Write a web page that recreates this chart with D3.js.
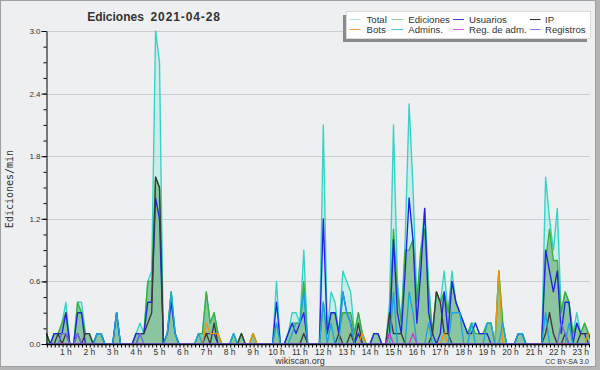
<!DOCTYPE html>
<html>
<head>
<meta charset="utf-8">
<script src="https://cdnjs.cloudflare.com/ajax/libs/d3/7.8.5/d3.min.js"></script>
<style>
  body { margin: 0; background: #eeeff1; }
  svg { display: block; }
  text { font-family: "Liberation Sans", Arial, sans-serif; fill: #333; }
</style>
</head>
<body>
<div id="chart"></div>
<script>
'use strict';

// edits per minute, one value per 10 minutes (00:00 .. 23:50)
var total = [
  .1, .1, 0, .1, .1, .2, .4, 0, 0, .4, .4, .1,
  .1, 0, .1, .1, 0, 0, 0, .3, 0, 0, 0, 0,
  .1, .2, .1, .6, .7, 3.0, 2.7, 0, .1, .5, .1, 0,
  0, 0, 0, 0, .1, .1, .5, .2, .3, .1, 0, 0,
  0, .1, 0, .1, 0, 0, .1, 0, 0, 0, 0, 0,
  .6, 0, 0, .1, .3, .3, .2, .9, 0, 0, 0, 0,
  2.1, .1, .5, .4, .1, .7, .6, .5, .1, .3, .1, 0,
  0, .1, .1, 0, 0, .4, 2.1, .6, .2, 1.0, 2.3, 1.5,
  .4, .9, 1.3, .6, .1, .5, .4, .7, .3, .7, .4, .3,
  .2, .1, .2, .2, .1, .1, .2, .2, 0, .7, .2, 0,
  0, 0, .1, .1, 0, 0, 0, 0, 0, 1.6, 1.2, .9,
  1.3, .3, .5, .4, .1, .3, .1, .2, .1, .1, 0, 0
];
var ediciones = [
  .1, .1, 0, .1, .1, .2, .3, 0, 0, .4, .3, .1,
  .1, 0, .1, .1, 0, 0, 0, .3, 0, 0, 0, 0,
  .1, .1, .1, .6, .6, 1.6, 1.5, 0, .1, .5, .1, 0,
  0, 0, 0, 0, .1, .1, .5, .2, .3, .1, 0, 0,
  0, .1, 0, .1, 0, 0, .1, 0, 0, 0, 0, 0,
  .2, 0, 0, .1, .2, .2, .2, .6, 0, 0, 0, 0,
  .4, .1, .3, .3, .1, .3, .3, .3, .1, .3, .1, 0,
  0, .1, .1, 0, 0, .3, 1.1, .5, .2, .9, .9, 1.0,
  .4, .9, 1.1, .5, .1, .5, .4, .5, .3, .6, .4, .3,
  .2, .1, .2, .1, .1, .1, .2, .2, 0, .7, .2, 0,
  0, 0, .1, .1, 0, 0, 0, 0, 0, .8, 1.1, .8,
  .8, .3, .5, .4, .1, .2, .1, .2, .1, .1, 0, 0
];
var usuarios = [
  0, 0, 0, .1, .1, .1, .3, 0, 0, .3, .3, 0,
  0, 0, .1, .1, 0, 0, 0, .3, 0, 0, 0, 0,
  .1, .1, .1, .4, .4, 1.4, 1.2, 0, .1, .4, .1, 0,
  0, 0, 0, 0, 0, 0, .1, .1, .1, 0, 0, 0,
  0, 0, 0, 0, 0, 0, 0, 0, 0, 0, 0, 0,
  .4, 0, 0, .1, .2, .1, .2, .3, 0, 0, 0, 0,
  1.2, .1, .3, .3, .1, .5, .3, .2, 0, .1, 0, 0,
  0, .1, .1, 0, 0, .1, 1.0, .3, .1, .7, 1.4, 1.0,
  .2, .7, 1.3, .3, .1, 0, .1, .5, .1, .6, .4, .3,
  .2, .1, .1, .2, .1, .1, .1, 0, 0, 0, 0, 0,
  0, 0, .1, .1, 0, 0, 0, 0, 0, .9, .7, .5,
  .7, .1, .4, .4, 0, .2, .1, .1, 0, 0, 0, 0
];
var ip = [
  .1, .1, 0, 0, .1, 0, .1, 0, 0, .1, 0, .1,
  .1, 0, 0, 0, 0, 0, 0, 0, 0, 0, 0, 0,
  0, .1, .1, .2, .3, 1.6, 1.5, 0, 0, 0, 0, 0,
  0, 0, 0, 0, 0, 0, .1, 0, .2, 0, 0, 0,
  0, 0, 0, .1, 0, 0, 0, 0, 0, 0, 0, 0,
  0, 0, 0, 0, 0, 0, 0, .1, 0, 0, 0, 0,
  0, 0, 0, 0, .1, 0, 0, .1, 0, .2, 0, 0,
  0, 0, 0, 0, 0, .3, .1, .1, .1, 0, 0, 0,
  0, 0, 0, 0, .1, .5, .4, .1, .1, 0, 0, 0,
  0, 0, 0, 0, 0, 0, 0, 0, 0, 0, 0, 0,
  0, 0, 0, 0, 0, 0, 0, 0, 0, .1, .3, .1,
  0, 0, .1, 0, 0, 0, .1, .1, .1, 0, 0, 0
];
var bots = [
  0, 0, 0, 0, 0, 0, 0, 0, 0, 0, 0, 0,
  0, 0, 0, 0, 0, 0, 0, 0, 0, 0, 0, 0,
  0, 0, 0, 0, 0, 0, 0, 0, 0, 0, 0, 0,
  0, 0, 0, 0, 0, 0, .2, .1, .1, .1, 0, 0,
  0, 0, 0, 0, 0, 0, .1, 0, 0, 0, 0, 0,
  0, 0, 0, 0, 0, 0, 0, 0, 0, 0, 0, 0,
  0, 0, 0, 0, 0, 0, 0, 0, 0, 0, .1, 0,
  0, 0, 0, 0, 0, 0, 0, 0, 0, 0, 0, 0,
  0, 0, 0, 0, 0, 0, 0, .1, 0, 0, 0, 0,
  0, 0, 0, 0, 0, 0, 0, 0, 0, .7, 0, 0,
  0, 0, 0, 0, 0, 0, 0, 0, 0, 0, 0, 0,
  0, 0, 0, 0, 0, 0, 0, 0, .1, .1, 0, 0
];
var admins = [
  0, 0, 0, 0, 0, 0, 0, 0, 0, 0, 0, 0,
  0, 0, .1, .1, 0, 0, 0, .3, 0, 0, 0, 0,
  0, 0, 0, 0, 0, 0, 0, 0, .1, .5, .1, 0,
  0, 0, 0, 0, .1, 0, 0, 0, 0, 0, 0, 0,
  0, .1, 0, 0, 0, 0, 0, 0, 0, 0, 0, 0,
  .2, 0, 0, 0, .1, .2, .2, .5, 0, 0, 0, 0,
  .4, 0, .2, 0, 0, .5, .3, .2, 0, 0, 0, 0,
  0, 0, 0, 0, 0, 0, .5, 0, 0, 0, .5, .3,
  0, 0, 0, .2, 0, 0, 0, 0, 0, .3, .3, .3,
  0, 0, .2, 0, 0, 0, .2, .2, 0, 0, .2, 0,
  0, 0, .1, .1, 0, 0, 0, 0, 0, .3, 0, 0,
  0, 0, 0, .2, 0, 0, 0, 0, 0, 0, 0, 0
];
var regAdm = [
  0, 0, 0, 0, 0, 0, 0, 0, 0, 0, 0, 0,
  0, 0, 0, 0, 0, 0, 0, 0, 0, 0, 0, 0,
  0, 0, 0, 0, 0, 0, 0, 0, 0, 0, 0, 0,
  0, 0, 0, 0, 0, 0, 0, 0, 0, 0, 0, 0,
  0, 0, 0, 0, 0, 0, 0, 0, 0, 0, 0, 0,
  0, 0, 0, 0, 0, 0, 0, 0, 0, 0, 0, 0,
  0, 0, 0, 0, 0, 0, 0, 0, 0, 0, 0, 0,
  0, 0, 0, 0, 0, .1, 0, 0, 0, 0, 0, .1,
  0, 0, 0, 0, 0, 0, 0, 0, 0, 0, 0, 0,
  0, 0, 0, 0, 0, 0, 0, 0, 0, 0, 0, 0,
  0, 0, 0, 0, 0, 0, 0, 0, 0, 0, 0, 0,
  0, 0, 0, 0, 0, 0, 0, 0, 0, 0, 0, 0
];
var registros = [
  0, 0, 0, 0, 0, .1, .1, 0, 0, .1, 0, 0,
  0, 0, 0, 0, 0, 0, 0, 0, 0, 0, 0, 0,
  0, .1, 0, 0, 0, 0, 0, 0, 0, 0, 0, 0,
  0, 0, 0, 0, 0, 0, 0, 0, 0, 0, 0, 0,
  0, 0, 0, 0, 0, 0, 0, 0, 0, 0, 0, 0,
  0, 0, 0, 0, 0, 0, 0, 0, 0, 0, 0, 0,
  0, 0, 0, 0, 0, 0, 0, 0, 0, 0, 0, 0,
  0, 0, 0, 0, 0, 0, 0, 0, 0, 0, 0, 0,
  0, 0, 0, 0, 0, 0, 0, 0, 0, 0, 0, 0,
  0, 0, 0, 0, 0, 0, 0, 0, 0, 0, 0, 0,
  0, 0, 0, 0, 0, 0, 0, 0, 0, 0, 0, 0,
  0, .2, .1, 0, 0, 0, 0, 0, 0, 0, 0, 0
];

var yTicks = [0, 0.6, 1.2, 1.8, 2.4, 3.0];
var hourLabels = ['1 h', '2 h', '3 h', '4 h', '5 h', '6 h', '7 h', '8 h', '9 h', '10 h', '11 h', '12 h',
  '13 h', '14 h', '15 h', '16 h', '17 h', '18 h', '19 h', '20 h', '21 h', '22 h', '23 h'];

// series drawn in legend order, the first two also filled
var series = [
  { name: 'Total', values: total, color: '#33d3c5', legend: '#a6e6e1', fill: 'rgba(64,224,208,0.2)' },
  { name: 'Ediciones', values: ediciones, color: '#3aae3a', legend: '#8cd58c', fill: 'rgba(60,150,70,0.45)' },
  { name: 'Usuarios', values: usuarios, color: '#2323e6', legend: '#3a3ae0' },
  { name: 'IP', values: ip, color: '#3a3a3a', legend: '#2a2a2a' },
  { name: 'Bots', values: bots, color: '#f39200', legend: '#f4a444' },
  { name: 'Admins.', values: admins, color: '#1ba6dd', legend: '#4cc6e0' },
  { name: 'Reg. de adm.', values: regAdm, color: '#c83ad8', legend: '#d25ae2' },
  { name: 'Registros', values: registros, color: '#6c6cf2', legend: '#7c7cf0' }
];

var width = 600, height = 370;
var plot = { left: 46, right: 590, top: 31, bottom: 344 };

var svg = d3.select('#chart').append('svg')
  .attr('width', width).attr('height', height);

// frame
svg.append('rect').attr('x', 0).attr('y', 0).attr('width', width).attr('height', height).attr('fill', '#b4b4b4');
svg.append('rect').attr('x', 0).attr('y', 0).attr('width', 596).attr('height', 367).attr('fill', '#eeeff1');
svg.append('rect').attr('x', 0.5).attr('y', 0.5).attr('width', 595).attr('height', 366)
  .attr('fill', 'none').attr('stroke', '#a0a0a0');

// scales: one step = 10 minutes, the visible window is clipped to the plot box
var x = d3.scaleLinear().domain([0, 144]).range([42.5, 604.1]);
var y = d3.scaleLinear().domain([0, 3]).range([plot.bottom, plot.top]);

svg.append('clipPath').attr('id', 'plotClip').append('rect')
  .attr('x', plot.left).attr('y', 0)
  .attr('width', plot.right - plot.left).attr('height', plot.bottom + 2);

// grid
svg.append('g').selectAll('line').data(yTicks.slice(1)).enter().append('line')
  .attr('x1', plot.left).attr('x2', plot.right)
  .attr('y1', function (d) { return Math.round(y(d)) + 0.5; })
  .attr('y2', function (d) { return Math.round(y(d)) + 0.5; })
  .attr('stroke', '#cdcdcd').attr('stroke-width', 1);

var marks = svg.append('g').attr('clip-path', 'url(#plotClip)');

var area = d3.area()
  .x(function (d, i) { return x(i); })
  .y0(y(0))
  .y1(function (d) { return y(d); });
var line = d3.line()
  .x(function (d, i) { return x(i); })
  .y(function (d) { return y(d); });

series.forEach(function (s) {
  if (s.fill) {
    marks.append('path').datum(s.values).attr('d', area).attr('fill', s.fill);
  }
});
series.forEach(function (s) {
  marks.append('path').datum(s.values).attr('d', line)
    .attr('fill', 'none').attr('stroke', s.color).attr('stroke-width', 1.35)
    .attr('stroke-linejoin', 'round');
});

// y axis: minor ticks every 0.15, labels every 0.6
var minorY = d3.range(0, 3.0001, 0.15);
svg.append('g').attr('transform', 'translate(' + (plot.left + 0.5) + ',0)')
  .call(d3.axisLeft(y).tickValues(minorY).tickSize(3).tickSizeOuter(0).tickFormat(''))
  .call(function (g) { g.selectAll('path, line').attr('stroke', '#000'); });
svg.append('g').attr('transform', 'translate(' + (plot.left + 0.5) + ',0)')
  .call(d3.axisLeft(y).tickValues(yTicks).tickSize(5).tickPadding(1).tickFormat(d3.format('.1f')))
  .call(function (g) {
    g.select('.domain').remove();
    g.selectAll('line').attr('stroke', '#000');
    g.selectAll('text').style('font-family', '"Liberation Sans", Arial, sans-serif')
      .style('font-size', '8px').attr('fill', '#333');
  });

// x axis: ticks every 10 minutes, hour labels
var minorX = d3.range(1, 141);
var xAxisG = svg.append('g').attr('transform', 'translate(0,' + (plot.bottom + 0.5) + ')');
xAxisG.call(d3.axisBottom(x).tickValues(minorX).tickSize(3).tickFormat(''))
  .call(function (g) {
    g.select('.domain').remove();
    g.selectAll('line').attr('stroke', '#000').attr('transform', 'translate(0.5,0)');
  });
xAxisG.append('line').attr('x1', plot.left).attr('x2', plot.right)
  .attr('y1', 0).attr('y2', 0).attr('stroke', '#000').attr('stroke-width', 1.4);
xAxisG.selectAll('text.hour').data(hourLabels).enter().append('text')
  .attr('class', 'hour')
  .attr('x', function (d, i) { return x((i + 1) * 6); })
  .attr('y', 10)
  .attr('text-anchor', 'middle')
  .style('font-size', '8.5px')
  .text(function (d) { return d; });

// titles
var title = svg.append('text').attr('x', 154).attr('y', 20.5).attr('text-anchor', 'middle')
  .style('font-size', '12px').style('font-weight', 'bold').style('white-space', 'pre')
  .attr('fill', '#111');
title.append('tspan').text('Ediciones  ');
title.append('tspan').style('letter-spacing', '0.9px').text('2021-04-28');

svg.append('text').attr('transform', 'translate(13,189) rotate(-90)')
  .attr('text-anchor', 'middle')
  .style('font-family', '"DejaVu Sans Mono", monospace').style('font-size', '10px')
  .attr('fill', '#111')
  .text('Ediciones/min');

svg.append('text').attr('x', 300).attr('y', 363.5).attr('text-anchor', 'middle')
  .style('font-size', '9px').text('wikiscan.org');
svg.append('text').attr('x', 589).attr('y', 363.5).attr('text-anchor', 'end')
  .style('font-size', '7px').text('CC BY-SA 3.0');

// legend box with shadow
var legend = svg.append('g');
legend.append('rect').attr('x', 343).attr('y', 15).attr('width', 244).attr('height', 27).attr('fill', '#8a8a8a');
legend.append('rect').attr('x', 346.5).attr('y', 11.5).attr('width', 244).attr('height', 27)
  .attr('fill', '#fff').attr('stroke', '#dcdcdc');

// per column: line start, line end, text start
var legendCols = [
  { x1: 349.5, x2: 360.5, tx: 366.5 },
  { x1: 391.5, x2: 403, tx: 408.3 },
  { x1: 453, x2: 464, tx: 469 },
  { x1: 530, x2: 540.5, tx: 545 }
];
var legendItem = legend.selectAll('g.item').data(series).enter().append('g')
  .attr('class', 'item')
  .attr('transform', function (d, i) { return 'translate(0,' + (i < 4 ? 19.5 : 29.5) + ')'; });
legendItem.append('line')
  .attr('x1', function (d, i) { return legendCols[i % 4].x1; })
  .attr('x2', function (d, i) { return legendCols[i % 4].x2; })
  .attr('y1', 0).attr('y2', 0)
  .attr('stroke', function (d) { return d.legend; }).attr('stroke-width', 1);
legendItem.append('text')
  .attr('x', function (d, i) { return legendCols[i % 4].tx; })
  .attr('y', 3.5)
  .style('font-size', '9.6px').attr('fill', '#222')
  .text(function (d) { return d.name; });
</script>
</body>
</html>
